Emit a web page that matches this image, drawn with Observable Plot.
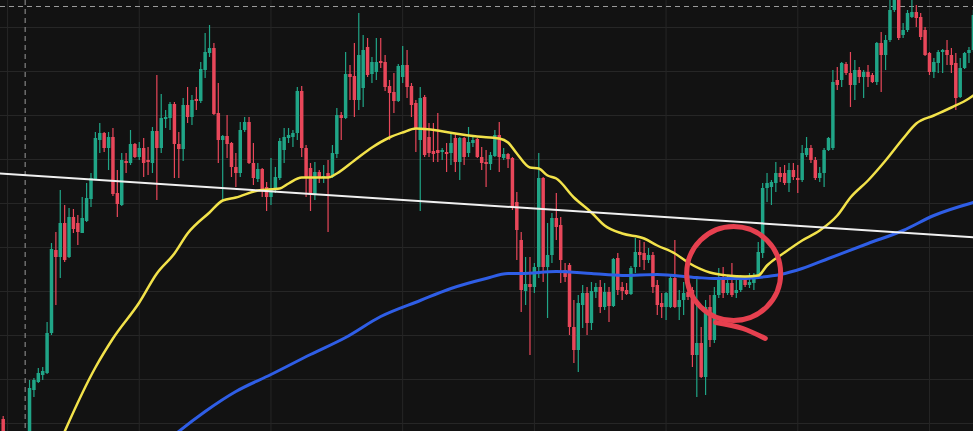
<!DOCTYPE html>
<html>
<head>
<meta charset="utf-8">
<script src="https://cdn.jsdelivr.net/npm/d3@7"></script>
<script src="https://cdn.jsdelivr.net/npm/@observablehq/plot@0.6"></script>
<style>
  html, body { margin: 0; padding: 0; background: #121212; overflow: hidden; }
  #chart svg { display: block; }
</style>
</head>
<body>
<div id="chart"></div>
<script>
// ---- candle data (one entry per bar, price units) ----
const opens = [
  81,60,48,38,45,52,60,110,118,125,
  127,167,250,243,277,243,283,277,267,279,
  301,321,360,367,352,363,307,295,339,337,
  356,343,352,340,337,369,352,381,382,396,
  356,351,395,383,401,399,430,447,452,387,
  360,364,357,333,327,370,378,337,321,331,
  313,303,312,322,350,362,363,367,409,352,
  332,305,328,322,327,323,346,385,382,426,
  424,400,412,453,426,428,439,438,414,408,
  399,423,435,414,397,360,403,363,349,350,
  348,348,347,362,338,362,347,357,361,343,
  338,336,344,365,342,346,342,298,260,209,
  216,213,233,322,233,245,282,275,230,235,
  173,150,195,207,177,208,213,193,208,194,
  242,213,210,206,233,248,247,240,245,215,
  197,193,193,222,193,200,208,210,145,157,
  123,193,160,205,223,207,217,207,210,220,
  215,217,223,247,312,313,317,327,327,317,
  330,322,320,345,352,340,322,327,350,352,
  420,420,436,427,415,430,423,428,425,418,
  457,445,460,490,503,465,470,483,488,483,
  470,447,428,437,448,450,445,437,403,432,
  447,450
];
const highs = [
  84,64,52,50,56,63,120,122,132,133,
  178,257,268,310,295,292,291,285,303,317,
  327,368,377,368,368,372,330,347,347,370,
  357,358,362,353,373,425,406,390,398,398,
  368,402,413,405,413,438,467,475,457,417,
  365,385,358,347,378,383,383,357,337,332,
  318,342,333,362,372,372,370,413,414,355,
  337,338,330,335,340,355,392,388,448,435,
  457,487,465,462,443,462,462,445,420,427,
  436,454,450,417,400,413,405,377,377,387,
  352,357,367,367,363,363,373,365,362,353,
  350,348,370,378,352,347,343,308,268,243,
  243,237,347,323,277,287,307,283,237,237,
  200,205,215,213,218,217,220,217,213,242,
  247,218,217,234,262,260,258,252,248,220,
  207,208,224,260,210,218,217,213,223,173,
  200,205,213,232,233,225,237,223,225,222,
  227,227,258,317,327,320,338,333,335,337,
  337,335,355,363,355,343,333,352,363,430,
  433,438,438,448,440,433,430,435,427,458,
  468,465,505,515,515,477,490,503,495,487,
  473,448,442,450,451,460,452,447,442,448,
  453,490
];
const lows = [
  60,42,32,30,40,48,55,103,117,120,
  126,165,195,222,238,242,267,255,267,278,
  293,320,347,348,330,304,283,294,327,335,
  342,340,323,325,327,300,347,372,370,322,
  322,339,377,375,390,397,422,443,385,337,
  300,342,323,313,323,368,336,315,318,303,
  289,295,307,320,337,357,353,360,343,303,
  289,300,317,317,268,322,342,360,381,400,
  383,390,393,423,417,420,432,409,360,387,
  398,417,402,383,348,289,343,343,338,338,
  340,328,335,328,320,335,343,353,342,330,
  313,330,343,328,340,332,290,240,188,195,
  145,207,222,218,182,237,260,217,218,165,
  137,128,172,165,170,202,187,190,178,193,
  205,200,205,205,227,233,230,237,207,185,
  182,180,192,192,180,185,200,133,103,122,
  105,153,157,202,202,205,203,202,208,213,
  212,210,222,242,298,295,308,318,315,308,
  320,307,318,343,337,320,318,313,349,350,
  410,413,425,393,400,417,402,413,417,415,
  408,430,458,488,460,462,468,482,473,460,
  444,425,422,427,427,435,427,390,402,431,
  437,448
];
const closes = [
  65,48,38,45,52,60,112,120,127,129,
  167,251,243,277,240,283,271,268,282,302,
  322,362,367,352,363,306,296,340,337,356,
  343,352,337,338,369,352,382,383,396,356,
  351,395,383,400,399,431,448,452,386,360,
  364,356,333,327,370,378,337,322,331,310,
  303,312,323,359,363,365,367,409,352,323,
  305,328,323,324,322,347,385,382,426,423,
  400,445,450,425,438,438,437,413,407,399,
  434,435,413,395,372,402,345,347,346,347,
  350,346,357,338,362,343,358,360,343,337,
  336,345,365,343,346,341,292,270,210,216,
  213,233,322,233,245,282,273,240,223,173,
  150,197,207,177,209,213,193,208,194,241,
  210,209,206,232,248,245,240,245,213,195,
  193,207,222,193,200,207,203,145,157,123,
  193,160,205,223,207,217,205,210,223,215,
  218,223,248,312,317,318,327,323,317,330,
  323,320,347,352,340,322,327,350,362,418,
  415,437,427,415,430,423,428,423,418,457,
  445,460,490,505,462,470,487,488,482,463,
  445,428,438,448,450,445,435,402,432,447,
  450,485
];

// ---- moving averages (bar index, price) ----
const maFastBar = [13,14,21,25,31,35,39,42,47,50,53,58,63,65,68,74,76,80,84,88,91,94,99,103,108,113,115,117,120,122,124,126,130,134,137,141,146,149,153,156,161,165,169,172,174,178,182,186,190,193,197,201,205,208,212,216,220,221];
const maFast    = [59,69,133,162,198,227,247,267,288,300,303,310,312,317,323,323,327,340,353,363,368,372,370,367,364,362,358,347,333,332,325,322,303,288,275,267,262,255,247,238,228,225,224,225,235,248,260,270,285,303,320,340,362,377,385,393,402,405];
const maSlowBar = [37,40,46,53,61,70,78,86,95,102,110,115,118,126,134,141,149,158,162,169,172,177,182,188,197,205,212,221];
const maSlow    = [58,69,89,109,126,146,163,184,200,212,222,227,227,229,227,225,226,223,222,222,223,226,232,242,257,270,285,298];

// ---- trend line, crosshair and hand-drawn annotation ----
const trendBar = [-1, 222];
const trendPrice = [327, 263];
const crossBar = [5];
const crossPrice = [494];
const ringBar = [166.4];
const ringPrice = [227];
const tailBar = [162.3, 168.5, 173.6];
const tailPrice = [178, 172, 162];

// ---- grid ----
const gridPrices = [473,429,385,341,297,253,209,165,121,77];
const gridBars = [1,31,61,91,121,151,181,211];

const candles = opens.map((o, i) => ({i, open: o, high: highs[i], low: lows[i], close: closes[i]}));
const up = candles.filter(d => d.close >= d.open);
const down = candles.filter(d => d.close < d.open);
const fast = maFastBar.map((b, k) => ({i: b, p: maFast[k]}));
const slow = maSlowBar.map((b, k) => ({i: b, p: maSlow[k]}));
const trend = trendBar.map((b, k) => ({i: b, p: trendPrice[k]}));
const ring = ringBar.map((b, k) => ({i: b, p: ringPrice[k]}));
const tail = tailBar.map((b, k) => ({i: b, p: tailPrice[k]}));

const GREEN = "#20a587", RED = "#e8475a";

const chart = Plot.plot({
  width: 973,
  height: 431,
  margin: 0,
  style: {background: "#121212"},
  x: {domain: [-0.615, 221.03], axis: null},
  y: {domain: [69, 500], axis: null},
  marks: [
    Plot.ruleY(gridPrices, {stroke: "#262626", strokeWidth: 1}),
    Plot.ruleX(gridBars, {stroke: "#262626", strokeWidth: 1}),
    Plot.ruleX(crossBar, {stroke: "#9a9a9a", strokeWidth: 1, strokeDasharray: "5,4"}),
    Plot.ruleY(crossPrice, {stroke: "#9a9a9a", strokeWidth: 1, strokeDasharray: "5,4"}),
    Plot.ruleX(up, {x: "i", y1: "low", y2: "high", stroke: GREEN, strokeWidth: 1.2, clip: true}),
    Plot.ruleX(down, {x: "i", y1: "low", y2: "high", stroke: RED, strokeWidth: 1.2, clip: true}),
    Plot.ruleX(up, {x: "i", y1: "open", y2: "close", stroke: GREEN, strokeWidth: 3.5, clip: true}),
    Plot.ruleX(down, {x: "i", y1: "open", y2: "close", stroke: RED, strokeWidth: 3.5, clip: true}),
    Plot.line(slow, {x: "i", y: "p", stroke: "#2f5ee6", strokeWidth: 3, curve: "monotone-x", clip: true}),
    Plot.line(fast, {x: "i", y: "p", stroke: "#f2e24a", strokeWidth: 2.5, curve: "monotone-x", clip: true}),
    Plot.line(trend, {x: "i", y: "p", stroke: "#f0f0f0", strokeWidth: 2, clip: true}),
    Plot.dot(ring, {x: "i", y: "p", r: 47, fill: "none", stroke: "#e6404f", strokeWidth: 5}),
    Plot.line(tail, {x: "i", y: "p", stroke: "#e6404f", strokeWidth: 5, strokeLinecap: "round", curve: "monotone-x"})
  ]
});
document.getElementById("chart").append(chart);
</script>
</body>
</html>
